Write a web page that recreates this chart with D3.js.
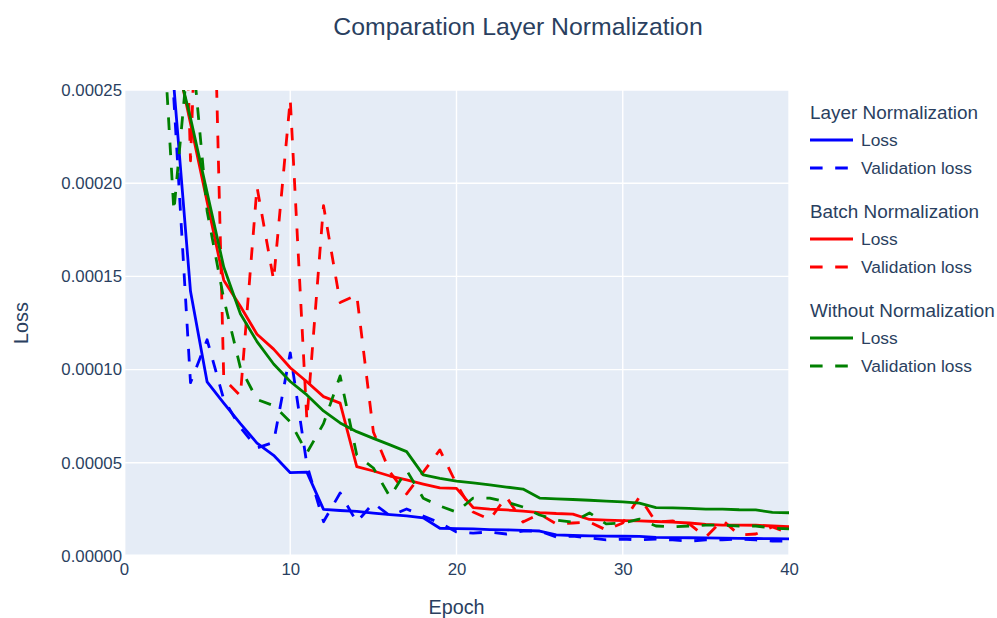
<!DOCTYPE html>
<html>
<head>
<meta charset="utf-8">
<script src="https://cdn.jsdelivr.net/npm/d3@7"></script>
<style>
  html, body { margin: 0; padding: 0; background: #fff; }
  svg { display: block; font-family: "Liberation Sans", Arial, sans-serif; }
</style>
</head>
<body>
<svg id="chart" width="997" height="618"></svg>
<script>
const epochs = [1,2,3,4,5,6,7,8,9,10,11,12,13,14,15,16,17,18,19,20,21,22,23,24,25,26,27,28,29,30,31,32,33,34,35,36,37,38,39,40];

const layerLoss = [1.0e-3,4.5e-4,2.52e-4,1.42e-4,9.34e-5,8.2e-5,7.1e-5,6.06e-5,5.4e-5,4.47e-5,4.5e-5,2.5e-5,2.44e-5,2.39e-5,2.3e-5,2.22e-5,2.15e-5,2.05e-5,1.49e-5,1.47e-5,1.45e-5,1.42e-5,1.4e-5,1.38e-5,1.34e-5,1.13e-5,1.1e-5,1.08e-5,1.07e-5,1.06e-5,1.05e-5,1.0e-5,0.99e-5,0.98e-5,0.97e-5,0.96e-5,0.95e-5,0.94e-5,0.93e-5,0.92e-5];
const layerVal = [8e-4,4e-4,2.45e-4,9.3e-5,1.16e-4,8.4e-5,6.9e-5,5.8e-5,6.1e-5,1.09e-4,4.9e-5,1.84e-5,3.38e-5,1.82e-5,2.84e-5,2.15e-5,2.52e-5,2.15e-5,1.77e-5,1.29e-5,1.23e-5,1.29e-5,1.18e-5,1.34e-5,1.34e-5,1.02e-5,1.07e-5,0.97e-5,0.86e-5,0.91e-5,0.86e-5,0.91e-5,0.86e-5,0.8e-5,0.86e-5,0.86e-5,0.91e-5,0.86e-5,0.8e-5,0.8e-5];

const batchLoss = [1.2e-3,5e-4,2.74e-4,2.32e-4,1.9e-4,1.48e-4,1.34e-4,1.19e-4,1.11e-4,1.01e-4,9.35e-5,8.55e-5,8.2e-5,4.79e-5,4.56e-5,4.29e-5,4.08e-5,3.86e-5,3.65e-5,3.63e-5,2.6e-5,2.52e-5,2.47e-5,2.41e-5,2.33e-5,2.28e-5,2.25e-5,1.96e-5,1.93e-5,1.9e-5,1.88e-5,1.85e-5,1.82e-5,1.77e-5,1.7e-5,1.66e-5,1.66e-5,1.65e-5,1.61e-5,1.57e-5];
const batchVal = [1.5e-3,8e-4,5.3e-4,2.12e-4,4.6e-4,9.5e-5,8.6e-5,1.98e-4,1.48e-4,2.45e-4,7.3e-5,1.88e-4,1.36e-4,1.4e-4,6.65e-5,4.5e-5,3.33e-5,4.5e-5,5.69e-5,3.86e-5,2.36e-5,1.96e-5,3.17e-5,1.82e-5,2.25e-5,1.72e-5,1.77e-5,1.82e-5,1.4e-5,1.77e-5,3.17e-5,1.82e-5,1.88e-5,1.72e-5,1.02e-5,1.93e-5,1.13e-5,1.18e-5,1.56e-5,1.23e-5];

const withoutLoss = [1.2e-3,5e-4,2.71e-4,2.35e-4,1.95e-4,1.55e-4,1.3e-4,1.15e-4,1.03e-4,9.36e-5,8.64e-5,7.78e-5,7.14e-5,6.67e-5,6.31e-5,5.96e-5,5.6e-5,4.35e-5,4.17e-5,4.02e-5,3.92e-5,3.81e-5,3.7e-5,3.59e-5,3.11e-5,3.07e-5,3.03e-5,2.99e-5,2.94e-5,2.9e-5,2.84e-5,2.6e-5,2.58e-5,2.55e-5,2.52e-5,2.51e-5,2.48e-5,2.47e-5,2.34e-5,2.32e-5];
const withoutVal = [6e-4,3.4e-4,1.85e-4,2.82e-4,1.85e-4,1.38e-4,1.01e-4,8.4e-5,8.07e-5,7.2e-5,5.53e-5,7.1e-5,9.66e-5,5.42e-5,4.72e-5,3.17e-5,4.6e-5,3.1e-5,2.68e-5,2.36e-5,3.11e-5,3.11e-5,2.9e-5,2.63e-5,2.2e-5,1.93e-5,1.82e-5,2.31e-5,1.72e-5,1.77e-5,1.98e-5,1.61e-5,1.56e-5,1.61e-5,1.66e-5,1.66e-5,1.61e-5,1.61e-5,1.5e-5,1.45e-5];

const groupNames = ["Layer Normalization", "Batch Normalization", "Without Normalization"];
const groupColors = ["blue", "red", "green"];
const itemLabels = ["Loss", "Validation loss"];
const xTicks = [0, 10, 20, 30, 40];
const yTicks = [0, 0.00005, 0.0001, 0.00015, 0.0002, 0.00025];

const titleText = "Comparation Layer Normalization";
const xTitle = "Epoch";
const yTitle = "Loss";

const series = [
  {group: 0, kind: 0, values: layerLoss},
  {group: 0, kind: 1, values: layerVal},
  {group: 1, kind: 0, values: batchLoss},
  {group: 1, kind: 1, values: batchVal},
  {group: 2, kind: 0, values: withoutLoss},
  {group: 2, kind: 1, values: withoutVal}
];

const svg = d3.select("#chart");
const textColor = "#2a3f5f";
const L = 124, R = 789, T = 90, B = 556;

const x = d3.scaleLinear().domain([0, 40]).range([L, R]);
const y = d3.scaleLinear().domain([0, 0.00025]).range([B, T]);

svg.append("rect").attr("x", L).attr("y", T).attr("width", R - L).attr("height", B - T).attr("fill", "#E5ECF6");

const grid = svg.append("g");
grid.selectAll("line.gx").data(xTicks).enter().append("line")
  .attr("x1", d => x(d)).attr("x2", d => x(d)).attr("y1", T).attr("y2", B)
  .attr("stroke", "#fff").attr("stroke-width", d => d === 0 ? 2.8 : 1.4);
grid.selectAll("line.gy").data(yTicks).enter().append("line")
  .attr("y1", d => y(d)).attr("y2", d => y(d)).attr("x1", L).attr("x2", R)
  .attr("stroke", "#fff").attr("stroke-width", d => d === 0 ? 2.8 : 1.4);

svg.append("defs").append("clipPath").attr("id", "plotclip")
  .append("rect").attr("x", L).attr("y", T).attr("width", R - L).attr("height", B - T);

const line = d3.line().x((d, i) => x(epochs[i])).y(d => y(d));

const plot = svg.append("g").attr("clip-path", "url(#plotclip)");
series.forEach(s => {
  plot.append("path")
    .attr("d", line(s.values))
    .attr("fill", "none")
    .attr("stroke", groupColors[s.group])
    .attr("stroke-width", 2.8)
    .attr("stroke-linejoin", "round")
    .attr("stroke-dasharray", s.kind === 1 ? "12.6,12.6" : null);
});

// axes
const xAxis = svg.append("g").attr("transform", `translate(0,${B})`)
  .call(d3.axisBottom(x).tickValues(xTicks).tickSize(0).tickPadding(7).tickFormat(d3.format("d")));
xAxis.select(".domain").remove();
xAxis.selectAll("text").attr("fill", textColor).style("font-size", "16.8px").style("font-family", '"Liberation Sans", Arial, sans-serif');

const yAxis = svg.append("g").attr("transform", `translate(${L},0)`)
  .call(d3.axisLeft(y).tickValues(yTicks).tickSize(0).tickPadding(2).tickFormat(d3.format(".5f")));
yAxis.select(".domain").remove();
yAxis.selectAll("text").attr("fill", textColor).style("font-size", "16.8px").style("font-family", '"Liberation Sans", Arial, sans-serif');

// titles
svg.append("text").attr("x", 518).attr("y", 35).attr("text-anchor", "middle")
  .attr("fill", textColor).style("font-size", "24.8px").text(titleText);
svg.append("text").attr("x", (L + R) / 2).attr("y", 614).attr("text-anchor", "middle")
  .attr("fill", textColor).style("font-size", "19.8px").text(xTitle);
svg.append("text").attr("transform", `translate(28,${(T + B) / 2}) rotate(-90)`).attr("text-anchor", "middle")
  .attr("fill", textColor).style("font-size", "19.8px").text(yTitle);

// legend
const leg = svg.append("g");
groupNames.forEach((g, gi) => {
  const top = 112 + gi * 99;
  leg.append("text").attr("x", 810).attr("y", top + 6.5).attr("fill", textColor)
    .style("font-size", "18.9px").text(g);
  itemLabels.forEach((lab, li) => {
    const cy = top + 28 * (li + 1);
    leg.append("line").attr("x1", 810).attr("x2", 853).attr("y1", cy).attr("y2", cy)
      .attr("stroke", groupColors[gi]).attr("stroke-width", 2.8)
      .attr("stroke-dasharray", li === 1 ? "12.6,12.6" : null);
    leg.append("text").attr("x", 861).attr("y", cy + 6).attr("fill", textColor)
      .style("font-size", "17.4px").text(lab);
  });
});
</script>
</body>
</html>
